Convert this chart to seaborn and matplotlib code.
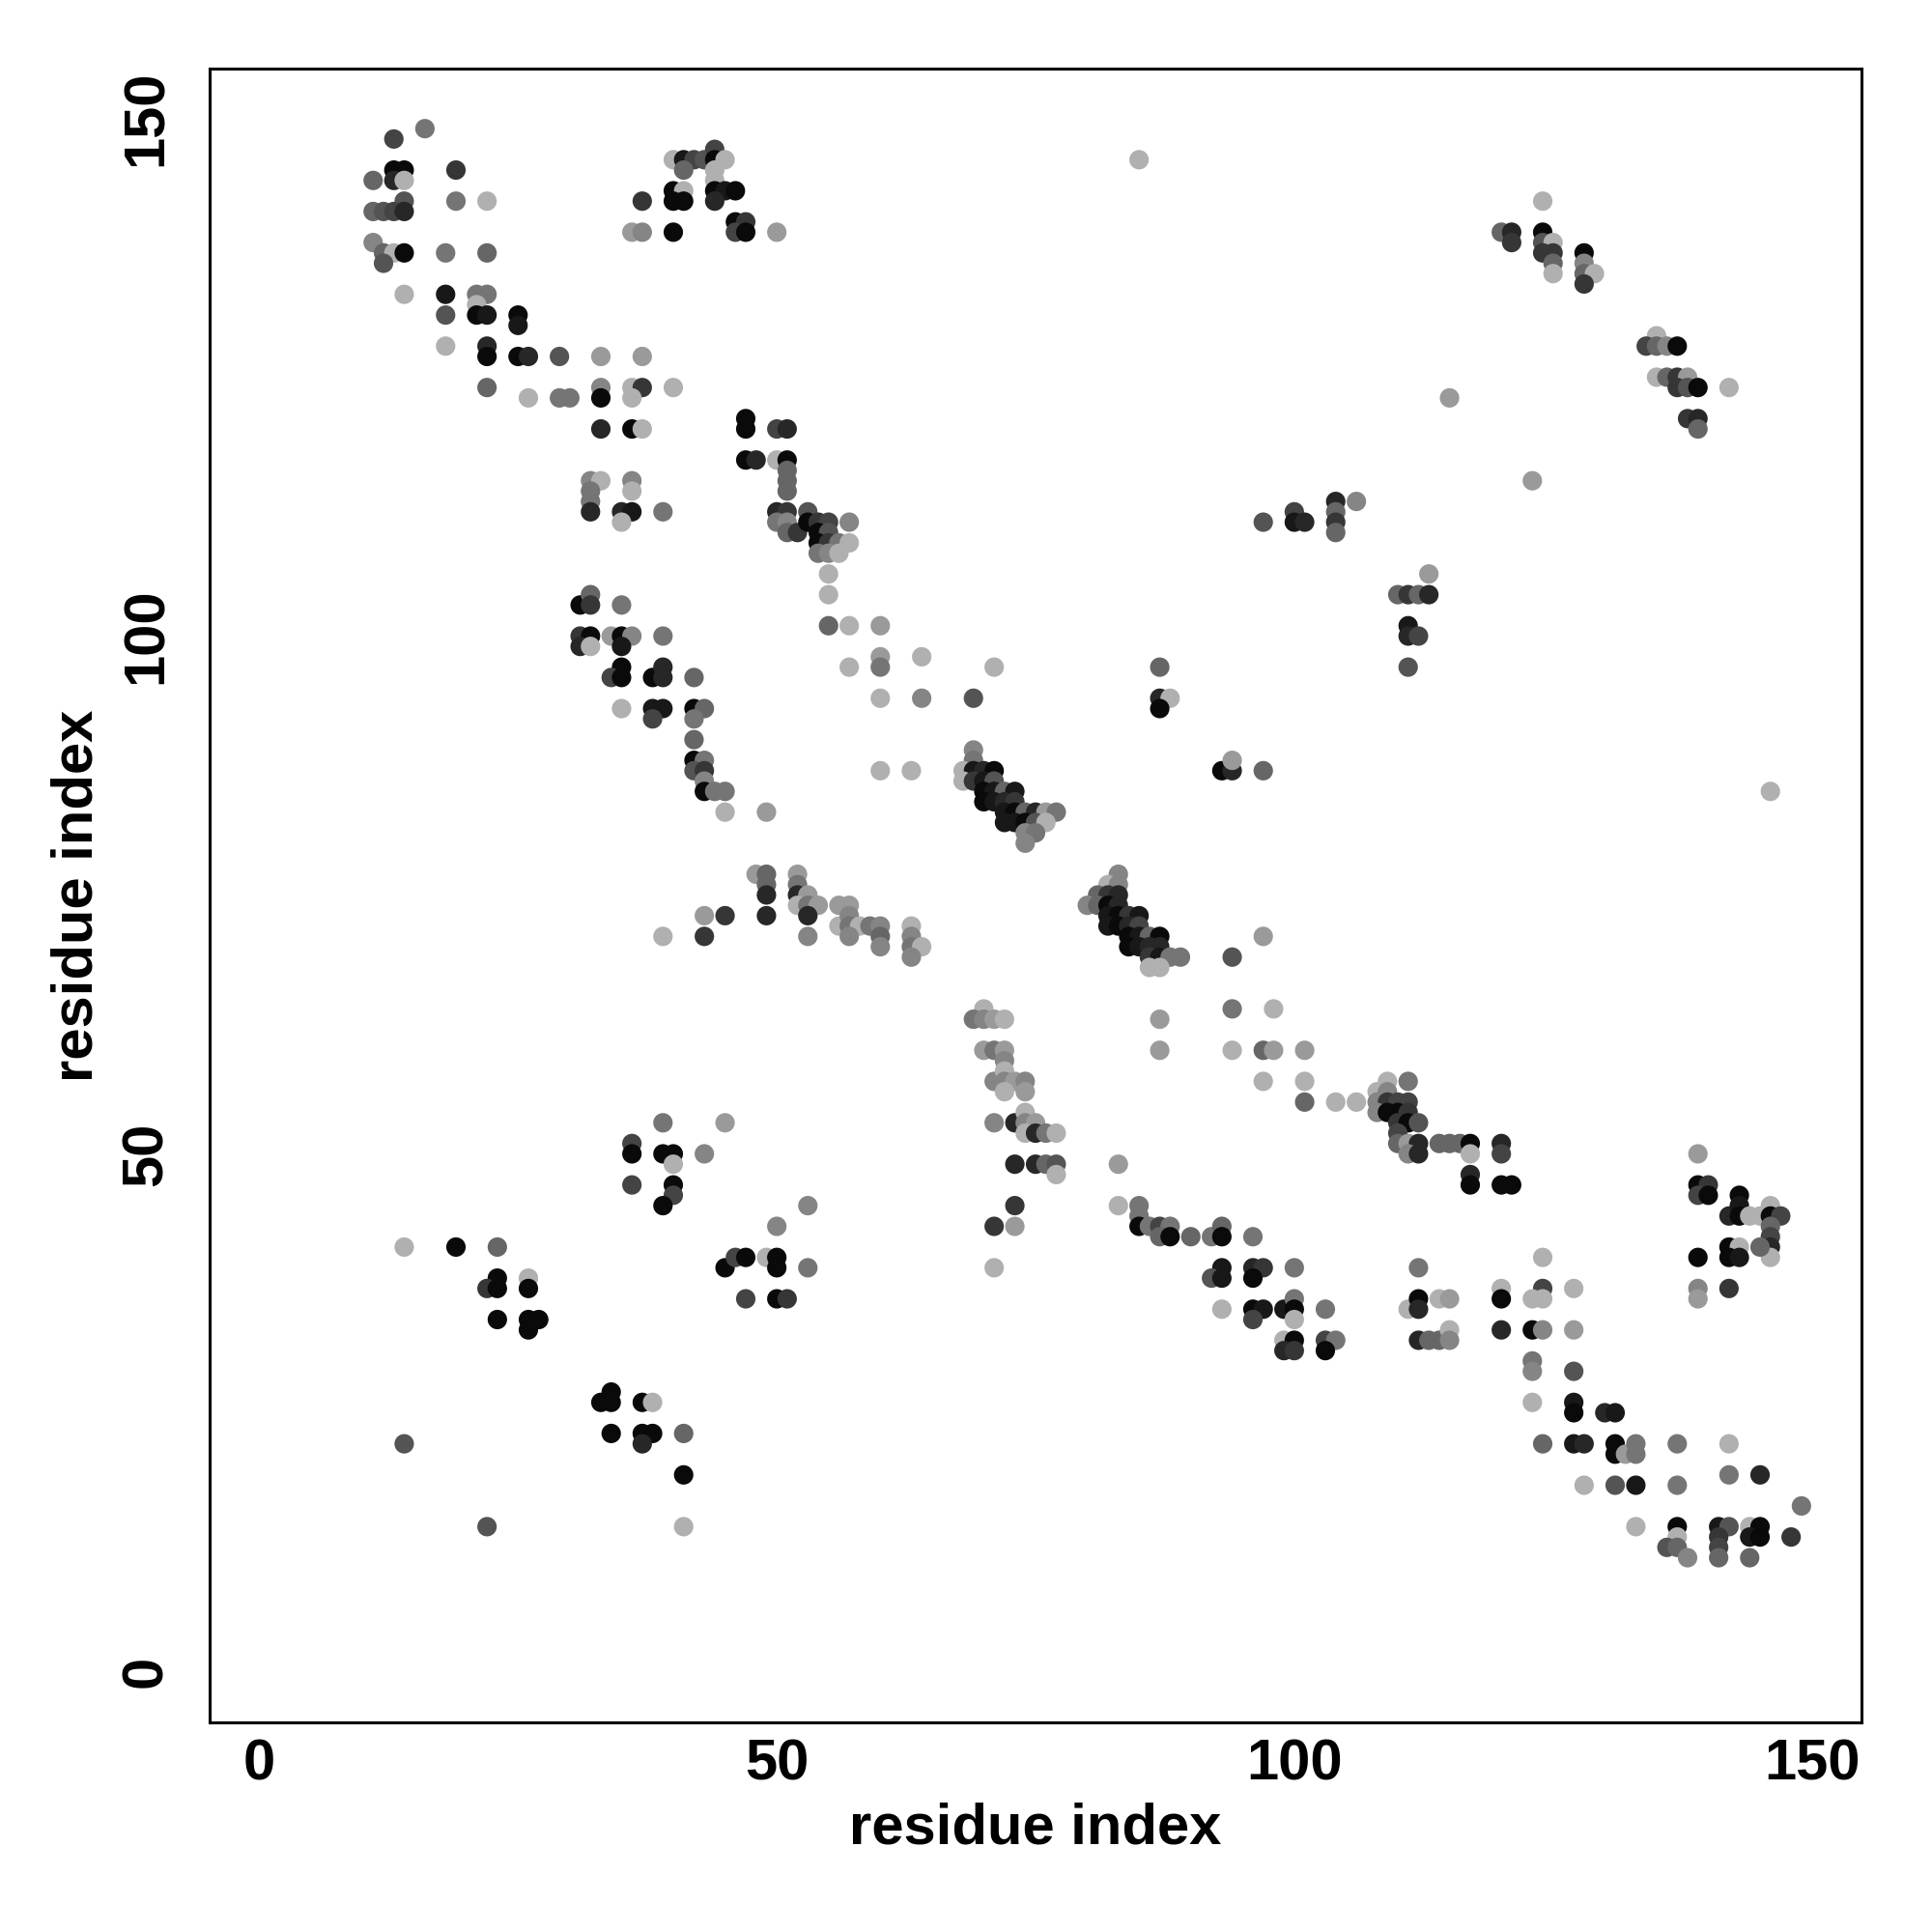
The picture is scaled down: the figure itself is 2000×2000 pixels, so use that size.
import pandas as pd
import numpy as np
import matplotlib
matplotlib.use('Agg')
import matplotlib.pyplot as plt
import seaborn as sns
from matplotlib.colors import LinearSegmentedColormap

# contacts: (residue i, residue j, score) - score drives the grey level
strand_a = [(16, 149, .42), (13, 148, .68), (13, 145, 1.0), (14, 145, 1.0), (19, 145, .76),
            (11, 144, .5), (13, 144, .84), (14, 144, .1), (14, 142, .6), (19, 142, .42), (22, 142, .1),
            (11, 141, .5), (12, 141, .6), (13, 141, .68), (14, 141, .84),
            (11, 138, .33), (12, 137, .5), (13, 137, .1), (14, 137, 1.0), (12, 136, .6),
            (18, 137, .42), (22, 137, .5), (14, 133, .1), (18, 133, .92), (18, 131, .6),
            (21, 133, .42), (22, 133, .42), (21, 132, .1), (21, 131, 1.0), (22, 131, .92),
            (25, 131, 1.0), (25, 130, .92), (18, 128, .1), (22, 128, .84), (22, 127, 1.0),
            (25, 127, 1.0), (26, 127, .84), (29, 127, .6), (33, 127, .22), (37, 127, .22),
            (22, 124, .5), (26, 123, .1), (29, 123, .42), (30, 123, .42), (33, 124, .33), (33, 123, 1.0),
            (36, 124, .1), (37, 124, .76), (36, 123, .1), (40, 124, .1),
            (33, 120, .84), (36, 120, 1.0), (37, 120, .1),
            (32, 115, .33), (33, 115, .1), (32, 114, .42), (32, 113, .42), (32, 112, .84),
            (36, 115, .33), (36, 114, .1), (35, 112, .84), (36, 112, .92), (35, 111, .1), (39, 112, .42),
            (31, 103, 1.0), (32, 104, .5), (32, 103, .76), (35, 103, .42)]

strand_b = [(40, 146, .1), (41, 146, .92), (42, 146, .68), (43, 146, .6), (44, 147, .68), (44, 146, 1.0),
            (45, 146, .1), (41, 145, .5), (44, 145, .1), (44, 144, .1),
            (37, 142, .76), (40, 143, 1.0), (41, 143, .1), (40, 142, 1.0), (41, 142, 1.0),
            (44, 143, 1.0), (45, 143, .92), (46, 143, 1.0), (44, 142, .84),
            (36, 139, .22), (37, 139, .33), (40, 139, 1.0),
            (46, 140, 1.0), (47, 140, .76), (46, 139, .68), (47, 139, 1.0), (50, 139, .22),
            (47, 121, 1.0), (47, 120, 1.0), (47, 117, 1.0), (48, 117, .84),
            (85, 146, .1), (50, 120, .68), (51, 120, .84), (50, 117, .1), (51, 117, 1.0),
            (51, 116, .5), (51, 115, .5), (51, 114, .5),
            (50, 112, .84), (51, 112, .76), (53, 112, .6), (50, 111, .42), (51, 111, .33), (51, 110, .5),
            (52, 110, .76), (53, 111, 1.0), (54, 111, .76), (55, 111, .68), (54, 110, 1.0), (55, 110, .6),
            (57, 111, .33), (54, 109, 1.0), (55, 109, .76), (56, 109, .42), (57, 109, .1),
            (54, 108, .42), (55, 108, .33), (56, 108, .1), (55, 106, .1), (55, 104, .1),
            (55, 101, .5), (57, 101, .1), (60, 101, .22),
            (97, 111, .6), (100, 112, .68), (100, 111, .92), (101, 111, .84)]

strand_c = [(124, 142, .1), (120, 139, .5), (121, 139, .84), (121, 138, .76),
            (124, 139, 1.0), (124, 138, .6), (125, 138, .1), (124, 137, .76), (125, 137, .76),
            (125, 136, .5), (125, 135, .1),
            (128, 137, 1.0), (128, 136, .33), (128, 135, .5), (129, 135, .1), (128, 134, .76),
            (115, 123, .22), (135, 129, .1), (134, 128, .68), (135, 128, .5), (136, 128, .33), (137, 128, 1.0),
            (135, 125, .1), (136, 125, .5), (137, 125, .76), (138, 125, .22), (137, 124, .76),
            (138, 124, .6), (139, 124, 1.0), (142, 124, .1),
            (138, 121, .76), (139, 121, .84), (139, 120, .5), (123, 115, .22),
            (104, 113, .84), (106, 113, .33), (104, 112, .5), (104, 111, .76), (104, 110, .5),
            (113, 106, .22), (110, 104, .5), (111, 104, .76), (112, 104, .5), (113, 104, .84),
            (111, 101, .92), (111, 100, .84), (112, 100, .68), (111, 97, .6), (146, 85, .1)]

helix_a = [(31, 100, .76), (32, 100, 1.0), (31, 99, .84), (32, 99, .1),
           (34, 100, .22), (35, 100, 1.0), (36, 100, .33), (35, 99, .92), (39, 100, .42),
           (35, 97, 1.0), (34, 96, .68), (35, 96, 1.0), (38, 96, 1.0), (39, 97, .84), (39, 96, .84),
           (42, 96, .5), (35, 93, .1), (38, 93, .92), (39, 93, .92), (38, 92, .68),
           (42, 93, 1.0), (43, 93, .5), (42, 92, .42), (42, 90, .5),
           (42, 88, 1.0), (43, 88, .42), (42, 87, .6), (43, 87, .76),
           (43, 86, .33), (43, 85, 1.0), (44, 85, .42), (45, 85, .42), (45, 83, .1), (49, 83, .22),
           (57, 97, .1), (60, 98, .22), (60, 97, .42), (64, 98, .1), (71, 97, .1),
           (60, 94, .1), (64, 94, .33), (69, 94, .6), (60, 87, .1), (63, 87, .1),
           (87, 97, .5), (87, 94, .84), (88, 94, .1), (87, 93, 1.0),
           (93, 87, 1.0), (94, 87, .84), (94, 88, .22), (97, 87, .5)]

helix_b = [(69, 89, .33), (69, 88, .42),
           (68, 87, .1), (69, 87, .92), (70, 87, .84), (71, 87, 1.0), (68, 86, .1), (69, 86, .76),
           (70, 86, .92), (71, 86, .6), (70, 85, 1.0), (71, 85, .92), (72, 85, .5), (73, 85, .92),
           (70, 84, 1.0), (71, 84, .92), (72, 84, .84), (73, 84, .76), (72, 83, .92), (73, 83, 1.0),
           (74, 83, .5), (75, 83, .84), (76, 83, .22), (77, 83, .42), (72, 82, .92), (73, 82, .92),
           (74, 82, 1.0), (75, 82, .6), (76, 82, .1), (74, 81, .33), (75, 81, .42), (74, 80, .33),
           (83, 77, .33), (82, 76, .1), (83, 76, .33), (81, 75, .5), (82, 75, .76), (83, 75, .84),
           (80, 74, .33), (81, 74, .5), (82, 74, 1.0), (83, 74, .84), (82, 73, .92), (83, 73, 1.0),
           (84, 73, .76), (85, 73, .92), (82, 72, .92), (83, 72, 1.0), (84, 72, .84), (85, 72, .68),
           (84, 71, 1.0), (85, 71, .92), (86, 71, .5), (87, 71, 1.0), (84, 70, 1.0), (85, 70, .92),
           (86, 70, .84), (87, 70, .84), (86, 69, .76), (87, 69, .92), (88, 69, .42), (89, 69, .42),
           (86, 68, .1), (87, 68, .1), (97, 71, .22), (94, 69, .6)]

loop_a = [(48, 77, .22), (49, 77, .5), (49, 76, .5), (49, 75, .84),
          (43, 73, .22), (45, 73, .76), (49, 73, .84), (39, 71, .1), (43, 71, .76),
          (52, 77, .22), (52, 76, .42), (52, 75, .84), (53, 75, .22), (52, 74, .1), (53, 74, .42),
          (54, 74, .22), (53, 73, .84), (53, 71, .33),
          (56, 74, .22), (57, 74, .22), (56, 72, .1), (57, 73, .33), (57, 72, .42), (58, 72, .1),
          (59, 72, .42), (60, 72, .33), (57, 71, .33), (60, 71, .5), (60, 70, .33),
          (63, 72, .1), (63, 71, .33), (63, 70, .42), (64, 70, .1), (63, 69, .33)]

loop_b = [(70, 64, .1), (69, 63, .42), (70, 63, .33), (71, 63, .22), (72, 63, .1),
          (87, 63, .22), (94, 64, .42), (98, 64, .1),
          (70, 60, .22), (71, 60, .42), (72, 60, .22), (72, 59, .33),
          (87, 60, .22), (94, 60, .1), (97, 60, .5), (98, 60, .22), (101, 60, .22),
          (71, 57, .33), (72, 58, .1), (72, 57, .33), (73, 57, .22), (74, 57, .33), (72, 56, .1),
          (74, 56, .22), (97, 57, .1), (101, 57, .1), (101, 55, .5),
          (71, 53, .33), (73, 53, .84), (74, 54, .1), (74, 53, .33), (75, 53, .22), (74, 52, .1),
          (75, 52, .84), (76, 52, .42), (77, 52, .1),
          (73, 49, .84), (75, 49, .84), (76, 49, .5), (77, 49, .6), (77, 48, .1), (83, 49, .22),
          (104, 55, .1), (106, 55, .1),
          (109, 57, .1), (111, 57, .42), (108, 56, .1), (109, 56, .33), (108, 55, .33), (109, 55, .76),
          (110, 55, .68), (111, 55, .68), (108, 54, .33), (109, 54, 1.0), (110, 54, 1.0), (111, 54, .76),
          (110, 53, .76), (111, 53, 1.0), (112, 53, .6), (110, 52, .68), (110, 51, .5), (111, 51, .22),
          (112, 51, .84), (111, 50, .33), (112, 50, .84),
          (114, 51, .5), (115, 51, .5), (116, 51, .5), (117, 51, 1.0), (117, 50, .1),
          (120, 51, .84), (120, 50, .68), (139, 50, .22)]

sheet_low = [(39, 53, .42), (45, 53, .22), (36, 51, .68), (36, 50, 1.0), (39, 50, 1.0), (40, 50, 1.0),
             (43, 50, .33), (40, 49, .1),
             (36, 47, .68), (40, 47, 1.0), (40, 46, .68), (39, 45, 1.0),
             (14, 41, .1), (19, 41, 1.0), (23, 41, .5),
             (23, 38, 1.0), (22, 37, .76), (23, 37, 1.0), (26, 38, .1), (26, 37, 1.0),
             (23, 34, 1.0), (26, 34, 1.0), (27, 34, 1.0), (26, 33, 1.0),
             (34, 27, 1.0), (33, 26, 1.0), (34, 26, 1.0), (37, 26, 1.0), (38, 26, .1),
             (34, 23, 1.0), (37, 23, 1.0), (38, 23, 1.0), (37, 22, .84), (41, 23, .5),
             (41, 19, 1.0), (14, 22, .6), (22, 14, .6), (41, 14, .1),
             (45, 39, 1.0), (46, 40, .68), (47, 40, 1.0), (47, 36, .68),
             (53, 45, .33), (50, 43, .33), (49, 40, .1), (50, 40, 1.0), (50, 39, 1.0), (53, 39, .42),
             (50, 36, 1.0), (51, 36, .76),
             (73, 45, .76), (71, 43, .76), (73, 43, .22), (71, 39, .1)]

sheet_mid = [(83, 45, .1), (85, 45, .42), (85, 44, .42), (85, 43, 1.0), (86, 43, .42), (87, 43, .68),
             (88, 43, .42), (87, 42, .5), (88, 42, 1.0), (90, 42, .5), (92, 42, .42), (93, 43, .5),
             (93, 42, 1.0), (96, 42, .42),
             (93, 39, .92), (92, 38, .6), (93, 38, .92), (96, 39, .84), (97, 39, .76), (96, 38, 1.0),
             (100, 39, .42),
             (93, 35, .1), (96, 35, 1.0), (97, 35, .92), (96, 34, .68), (99, 35, .92), (100, 36, .42),
             (100, 35, 1.0), (100, 34, .1),
             (99, 32, .1), (100, 32, 1.0), (99, 31, .84), (100, 31, .76),
             (103, 35, .42), (103, 32, .68), (104, 32, .42), (103, 31, 1.0),
             (111, 35, .1), (112, 36, 1.0), (112, 35, .84), (114, 36, .1), (115, 36, .22),
             (112, 32, .84), (113, 32, .5), (114, 32, .5), (115, 33, .1), (115, 32, .33),
             (112, 39, .42), (120, 37, .1), (120, 36, 1.0), (124, 40, .1), (124, 37, .68),
             (123, 36, .1), (124, 36, .1), (127, 37, .1),
             (120, 33, .84), (123, 33, 1.0), (124, 33, .33), (127, 33, .22)]

sheet_high = [(117, 48, .84), (117, 47, 1.0), (120, 47, 1.0), (121, 47, 1.0),
              (139, 47, 1.0), (140, 47, .76), (139, 46, .68), (140, 46, 1.0), (143, 46, 1.0),
              (142, 44, .84), (143, 45, .92), (143, 44, 1.0), (144, 44, .1), (145, 44, .1),
              (146, 45, .1), (146, 44, 1.0), (147, 44, .68), (146, 43, .5), (146, 42, .68),
              (146, 41, .84), (146, 40, .1), (145, 41, .5),
              (139, 40, 1.0), (142, 41, 1.0), (143, 41, .1), (142, 40, 1.0), (143, 40, .92),
              (139, 37, .33), (139, 36, .22), (142, 37, .76),
              (123, 30, .42), (123, 29, .33), (127, 29, .6),
              (123, 26, .1), (127, 26, .92), (127, 25, 1.0), (130, 25, .84), (131, 25, .92),
              (124, 22, .5), (127, 22, .92), (128, 22, .84), (131, 22, 1.0), (131, 21, 1.0),
              (132, 21, .22), (133, 22, .42), (133, 21, .42), (137, 22, .42), (142, 22, .1),
              (128, 18, .1), (131, 18, .6), (133, 18, .92), (137, 18, .42), (142, 19, .42),
              (145, 19, .84), (149, 16, .42),
              (133, 14, .1), (137, 14, 1.0), (137, 13, .1), (136, 12, .6), (137, 12, .5),
              (138, 11, .33), (141, 14, .92), (142, 14, .6), (141, 13, .76), (141, 12, .68),
              (141, 11, .5), (144, 14, .1), (145, 14, 1.0), (144, 13, .92), (145, 13, 1.0),
              (144, 11, .5), (148, 13, .76)]

tick_vals = [0, 50, 100, 150]

groups = [strand_a, strand_b, strand_c, helix_a, helix_b, loop_a, loop_b,
          sheet_low, sheet_mid, sheet_high]
df = pd.DataFrame([p for g in groups for p in g], columns=['i', 'j', 'score'])

sns.set_style('white')
plt.rcParams['font.family'] = ['Liberation Sans', 'DejaVu Sans']
plt.rcParams['font.weight'] = 'bold'
plt.rcParams['text.color'] = 'black'
plt.rcParams['axes.labelcolor'] = 'black'
plt.rcParams['xtick.color'] = 'black'
plt.rcParams['ytick.color'] = 'black'

greys = LinearSegmentedColormap.from_list('greys', ['#c2c2c2', '#0a0a0a'])

fig = plt.figure(figsize=(20, 20), dpi=100)
ax = fig.add_axes([0.1085, 0.1085, 0.855, 0.856])
sns.scatterplot(data=df, x='i', y='j', hue='score', palette=greys, hue_norm=(0, 1),
                s=210, linewidth=0, legend=False, ax=ax)

ax.set_xlim(-4.8, 154.8)
ax.set_ylim(-4.9, 154.8)
ax.set_xticks(tick_vals)
ax.set_yticks(tick_vals)
ax.set_xticklabels([str(v) for v in tick_vals], fontsize=43, fontweight='bold', color='black')
ax.set_yticklabels([str(v) for v in tick_vals], fontsize=43, fontweight='bold', color='black',
                   rotation=90, va='center')
ax.tick_params(axis='both', direction='out', length=9, width=2.2, color='black')
ax.tick_params(axis='x', pad=3)
ax.tick_params(axis='y', pad=18)
for sp in ax.spines.values():
    sp.set_linewidth(2.2)
    sp.set_color('black')

ax.set_xlabel('residue index', fontsize=43, fontweight='bold', color='black')
ax.set_ylabel('residue index', fontsize=43, fontweight='bold', color='black')
ax.xaxis.label.set_va('center')
ax.yaxis.label.set_va('center')
ax.xaxis.set_label_coords(0.5, -0.064)
ax.yaxis.set_label_coords(-0.08, 0.5)

fig.savefig('out.png', dpi=100)
